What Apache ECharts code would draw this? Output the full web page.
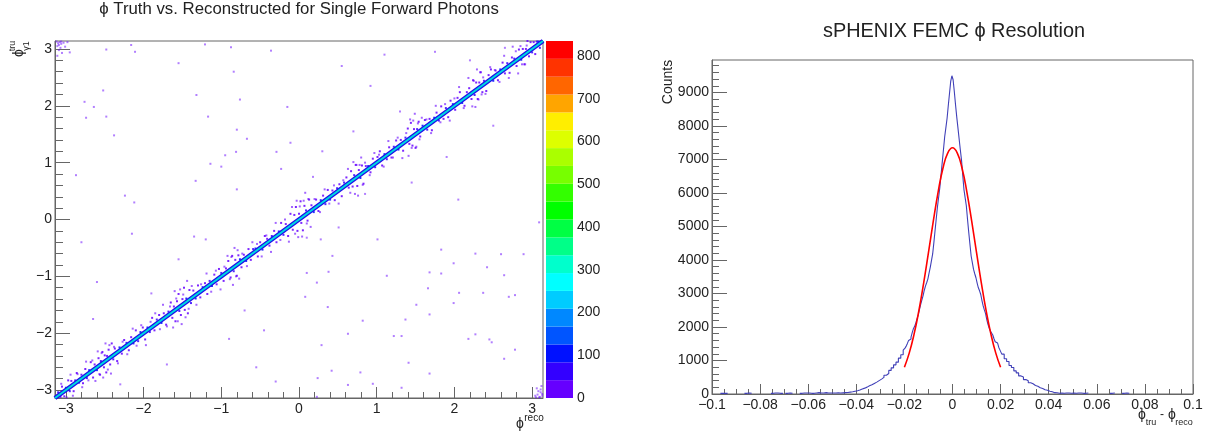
<!DOCTYPE html>
<html>
<head>
<meta charset="utf-8">
<style>
  html, body { margin: 0; background: #fff; }
  #chart { width: 1209px; height: 434px; }
</style>
<script src="https://cdn.jsdelivr.net/npm/echarts@6/dist/echarts.min.js"></script>
</head>
<body>
<div id="chart"></div>
<script>
const phiTicks = [-3, -2, -1, 0, 1, 2, 3]
const phiMinorTicks = [-3, -2.8, -2.6, -2.4, -2.2, -2, -1.8, -1.6, -1.4, -1.2, -1, -0.8, -0.6, -0.4, -0.2, 0, 0.2, 0.4, 0.6, 0.8, 1, 1.2, 1.4, 1.6, 1.8, 2, 2.2, 2.4, 2.6, 2.8, 3]
const paletteTicks = [0, 100, 200, 300, 400, 500, 600, 700, 800]
const diffTicks = [-0.1, -0.08, -0.06, -0.04, -0.02, 0, 0.02, 0.04, 0.06, 0.08, 0.1]
const diffMinorTicks = [-0.1, -0.095, -0.09, -0.085, -0.08, -0.075, -0.07, -0.065, -0.06, -0.055, -0.05, -0.045, -0.04, -0.035, -0.03, -0.025, -0.02, -0.015, -0.01, -0.005, 0, 0.005, 0.01, 0.015, 0.02, 0.025, 0.03, 0.035, 0.04, 0.045, 0.05, 0.055, 0.06, 0.065, 0.07, 0.075, 0.08, 0.085, 0.09, 0.095, 0.1]
const countTicks = [0, 1000, 2000, 3000, 4000, 5000, 6000, 7000, 8000, 9000]
const countMinorTicks = [0, 200, 400, 600, 800, 1000, 1200, 1400, 1600, 1800, 2000, 2200, 2400, 2600, 2800, 3000, 3200, 3400, 3600, 3800, 4000, 4200, 4400, 4600, 4800, 5000, 5200, 5400, 5600, 5800, 6000, 6200, 6400, 6600, 6800, 7000, 7200, 7400, 7600, 7800, 8000, 8200, 8400, 8600, 8800, 9000, 9200, 9400, 9600, 9800]

// bottom to top, one colour per contour
const palette = ['#6600ff', '#3300ff', '#0011ff', '#0055ff', '#0088ff', '#00ccff', '#00ffff', '#00ffcc', '#00ff88', '#00ff44',
  '#00ff00', '#33ff00', '#77ff00', '#aaff00', '#ddff00', '#ffee00', '#ffa500', '#ff6600', '#ff3300', '#ff0000']
const paletteStep = 41.75

// the dense core of the diagonal
const bandReco = [-3.14, 3.14]
const bandTruth = [-3.14, 3.14]

// cells hugging the diagonal, read as truth minus reco
const haloReco = [
  -3.1, -3.07, -3.05, -3.02, -3, -2.97, -2.95, -2.93, -2.9, -2.88, -2.86, -2.83,
  -2.8, -2.78, -2.75, -2.73, -2.7, -2.68, -2.65, -2.63, -2.6, -2.58, -2.56, -2.55,
  -2.53, -2.51, -2.5, -2.48, -2.47, -2.45, -2.43, -2.41, -2.39, -2.37, -2.34, -2.31,
  -2.28, -2.25, -2.22, -2.19, -2.16, -2.13, -2.1, -2.07, -2.04, -2.01, -1.98, -1.95,
  -1.92, -1.89, -1.86, -1.83, -1.8, -1.77, -1.74, -1.71, -1.68, -1.65, -1.63, -1.61,
  -1.59, -1.57, -1.55, -1.54, -1.52, -1.5, -1.48, -1.47, -1.45, -1.43, -1.41, -1.39,
  -1.36, -1.33, -1.3, -1.27, -1.24, -1.21, -1.18, -1.15, -1.12, -1.09, -1.06, -1.03,
  -1, -0.97, -0.94, -0.91, -0.88, -0.86, -0.84, -0.82, -0.8, -0.78, -0.76, -0.74,
  -0.71, -0.68, -0.65, -0.62, -0.59, -0.56, -0.53, -0.5, -0.47, -0.44, -0.41, -0.38,
  -0.35, -0.32, -0.29, -0.26, -0.23, -0.2, -0.17, -0.14, -0.11, -0.08, -0.06, -0.04,
  -0.02, 0, 0.02, 0.03, 0.05, 0.07, 0.09, 0.11, 0.13, 0.16, 0.19, 0.22,
  0.25, 0.28, 0.31, 0.34, 0.37, 0.4, 0.43, 0.46, 0.49, 0.52, 0.55, 0.58,
  0.61, 0.64, 0.67, 0.69, 0.71, 0.73, 0.75, 0.77, 0.79, 0.81, 0.83, 0.86,
  0.89, 0.92, 0.95, 0.98, 1.01, 1.04, 1.07, 1.1, 1.13, 1.16, 1.19, 1.22,
  1.25, 1.28, 1.31, 1.34, 1.37, 1.4, 1.42, 1.44, 1.46, 1.48, 1.5, 1.52,
  1.54, 1.56, 1.59, 1.62, 1.65, 1.68, 1.71, 1.74, 1.77, 1.8, 1.83, 1.86,
  1.89, 1.92, 1.95, 1.98, 2.01, 2.04, 2.07, 2.1, 2.13, 2.16, 2.19, 2.22,
  2.24, 2.26, 2.28, 2.3, 2.32, 2.34, 2.36, 2.38, 2.41, 2.44, 2.47, 2.5,
  2.53, 2.56, 2.59, 2.62, 2.65, 2.68, 2.71, 2.74, 2.77, 2.8, 2.83, 2.86,
  2.88, 2.9, 2.92, 2.94, 2.96, 2.98, 3, 3.02, 3.04, 3.06, 3.08, 3.1
]
const haloOffset = [
  0.06, -0.05, 0.11, -0.09, 0.04, 0.14, -0.07, 0.09, -0.12, 0.05, 0.16, -0.04,
  0.07, -0.1, 0.12, -0.06, 0.05, 0.17, -0.13, 0.08, -0.05, 0.14, -0.17, 0.06,
  0.2, -0.09, 0.11, -0.21, 0.07, 0.16, -0.12, 0.23, -0.07, 0.1, -0.15, 0.06,
  -0.08, 0.13, 0.05, -0.11, 0.09, -0.05, 0.15, -0.07, 0.06, 0.11, -0.13, 0.05,
  -0.06, 0.16, -0.09, 0.07, 0.12, -0.05, 0.09, -0.14, 0.06, 0.19, -0.1, 0.08,
  -0.2, 0.13, 0.24, -0.07, -0.16, 0.1, 0.28, -0.12, 0.06, -0.22, 0.17, -0.08,
  0.11, -0.06, 0.14, -0.1, 0.05, 0.09, -0.13, 0.07, -0.05, 0.12, -0.08, 0.16,
  0.06, -0.11, 0.08, 0.18, -0.14, 0.22, -0.07, 0.11, -0.19, 0.15, 0.06, -0.1,
  0.09, -0.05, 0.13, -0.09, 0.07, 0.05, -0.12, 0.1, -0.06, 0.15, 0.07, -0.08,
  0.06, 0.12, -0.11, 0.05, 0.17, -0.07, 0.09, -0.15, 0.21, -0.1, 0.14, 0.26,
  -0.18, 0.1, 0.3, -0.09, -0.24, 0.17, 0.07, -0.13, 0.22, 0.09, -0.06, 0.13,
  -0.1, 0.06, 0.11, -0.07, 0.15, -0.05, 0.08, -0.12, 0.06, 0.1, -0.14, 0.07,
  0.13, -0.08, 0.18, -0.11, 0.07, 0.23, -0.16, 0.1, -0.06, 0.14, -0.2, 0.08,
  0.05, -0.09, 0.12, -0.06, 0.09, 0.16, -0.12, 0.05, -0.07, 0.11, -0.1, 0.06,
  0.14, -0.05, 0.09, -0.13, 0.07, 0.2, -0.09, 0.26, -0.16, 0.11, -0.24, 0.07,
  0.18, -0.1, 0.06, 0.13, -0.07, 0.09, -0.14, 0.05, 0.11, -0.06, 0.16, -0.09,
  0.07, -0.12, 0.14, 0.05, -0.08, 0.1, 0.17, -0.05, -0.13, 0.08, 0.12, -0.1,
  0.21, -0.07, 0.13, -0.18, 0.09, 0.25, -0.12, 0.06, -0.15, 0.1, 0.17, -0.06,
  0.09, -0.11, 0.05, 0.14, -0.08, 0.07, -0.13, 0.11, 0.06, -0.1, 0.16, -0.05,
  0.12, -0.17, 0.08, 0.2, -0.09, 0.14, -0.06, 0.1, -0.13, 0.07, 0.05, -0.08
]
const haloCount = [
  60, 20, 10, 30, 90, 10, 50, 15, 10, 70, 10, 110,
  30, 10, 15, 80, 100, 10, 10, 20, 120, 10, 10, 60,
  10, 30, 15, 10, 40, 10, 10, 10, 70, 20, 10, 90,
  40, 10, 110, 15, 30, 100, 10, 60, 90, 15, 10, 120,
  80, 10, 20, 50, 10, 110, 25, 10, 70, 10, 15, 30,
  10, 15, 10, 60, 10, 20, 10, 10, 90, 10, 10, 50,
  15, 90, 10, 20, 120, 40, 10, 50, 100, 15, 30, 10,
  80, 10, 40, 10, 10, 10, 70, 20, 10, 10, 90, 15,
  20, 110, 10, 30, 50, 120, 10, 25, 90, 10, 40, 30,
  80, 15, 10, 110, 10, 60, 20, 10, 10, 15, 10, 10,
  10, 20, 10, 40, 10, 10, 70, 10, 10, 30, 100, 15,
  20, 90, 10, 60, 10, 110, 30, 10, 80, 15, 10, 50,
  10, 40, 10, 15, 60, 10, 10, 20, 90, 10, 10, 40,
  110, 20, 10, 80, 25, 10, 15, 120, 60, 10, 20, 70,
  10, 100, 30, 10, 50, 10, 40, 10, 10, 15, 10, 70,
  10, 25, 90, 15, 60, 30, 10, 110, 10, 80, 10, 20,
  50, 10, 10, 100, 30, 15, 10, 110, 10, 40, 10, 20,
  10, 70, 10, 10, 30, 10, 15, 60, 10, 20, 10, 90,
  25, 10, 110, 10, 40, 70, 10, 15, 60, 10, 10, 100,
  10, 10, 40, 10, 20, 10, 80, 15, 10, 50, 110, 60
]

// sparser cells further out from the diagonal, same reading
const fringeReco = [
  -3.06, -2.99, -2.94, -2.91, -2.85, -2.79, -2.74, -2.71, -2.66, -2.62, -2.59, -2.57, -2.54, -2.52, -2.49, -2.46, -2.44, -2.42,
  -2.38, -2.33, -2.27, -2.21, -2.14, -2.09, -2.03, -1.97, -1.91, -1.85, -1.79, -1.75, -1.7, -1.66, -1.62, -1.6, -1.58, -1.56,
  -1.53, -1.51, -1.49, -1.46, -1.44, -1.42, -1.38, -1.32, -1.26, -1.19, -1.13, -1.07, -1.01, -0.96, -0.92, -0.89, -0.87, -0.85,
  -0.83, -0.81, -0.79, -0.77, -0.73, -0.67, -0.6, -0.54, -0.48, -0.42, -0.36, -0.3, -0.24, -0.18, -0.13, -0.09, -0.05, -0.03,
  -0.01, 0.01, 0.04, 0.06, 0.08, 0.1, 0.12, 0.15, 0.2, 0.27, 0.33, 0.39, 0.45, 0.51, 0.57, 0.63, 0.66, 0.7, 0.72, 0.74,
  0.76, 0.78, 0.8, 0.82, 0.85, 0.91, 0.97, 1.03, 1.09, 1.15, 1.21, 1.27, 1.33, 1.38, 1.41, 1.43, 1.45, 1.47, 1.49, 1.51,
  1.53, 1.55, 1.58, 1.64, 1.7, 1.76, 1.82, 1.88, 1.94, 2, 2.06, 2.12, 2.18, 2.23, 2.25, 2.27, 2.29, 2.31, 2.33, 2.35,
  2.37, 2.4, 2.46, 2.52, 2.58, 2.64, 2.7, 2.75, 2.79, 2.82, 2.85, 2.87, 2.89, 2.91, 2.93, 2.95, 2.97, 2.99
]
const fringeOffset = [
  0.17, -0.14, 0.21, -0.19, 0.13, -0.16, 0.24, -0.12, 0.18, -0.22, 0.27, -0.15, 0.19, -0.26, 0.31, -0.18, 0.23, -0.29,
  0.14, -0.2, 0.12, -0.16, 0.22, -0.13, 0.17, -0.24, 0.11, 0.2, -0.14, 0.25, -0.18, 0.13, -0.28, 0.34, 0.19, -0.23,
  0.3, -0.33, 0.17, -0.26, 0.36, -0.15, 0.21, -0.18, 0.12, 0.24, -0.14, 0.17, -0.22, 0.13, 0.28, -0.16, 0.21, -0.3,
  0.33, -0.19, 0.25, -0.27, 0.13, -0.15, 0.2, 0.11, -0.17, 0.14, -0.21, 0.24, -0.12, 0.18, -0.26, 0.31, -0.2, 0.36,
  -0.3, 0.22, -0.34, 0.27, 0.39, -0.17, 0.24, -0.28, 0.16, -0.14, 0.2, -0.11, 0.15, -0.23, 0.12, 0.26, -0.19, 0.31, -0.27, 0.22,
  -0.34, 0.18, 0.29, -0.21, 0.15, -0.13, 0.2, 0.11, -0.16, 0.23, -0.12, 0.17, -0.25, 0.14, -0.29, 0.33, -0.19, 0.27,
  0.37, -0.23, 0.16, -0.14, 0.21, 0.12, -0.18, 0.24, -0.11, 0.15, -0.2, 0.13, 0.27, -0.16, 0.31, -0.24, 0.19, -0.29, 0.35, -0.2,
  0.26, -0.15, 0.13, -0.19, 0.22, 0.11, -0.16, 0.24, -0.21, 0.29, 0.17, -0.25, 0.2, -0.14, 0.26, -0.18, 0.13, 0.21
]

// isolated cells far from the diagonal, and the two wrap-around corners
const strayReco = [
  -2.87, -2.48, -2.16, -2.11, -1.55, -1.21, -0.875, -0.36, -0.84, -2.52, -1.32, -0.76, -2.76, -2.64, -0.15, -2.74, -2.48,
  -1.17, -0.8, -2.38, -0.67, -0.11, -0.81, -0.29, -0.95, -1.14, -1, -0.23, -1.33, -0.8, -2.24, -2.12, -2.95,
  0.51, 0.1, 1.01, 0.28, 1.83, 2.27, 2.6, 2.89, 0.43, 1.99, 2.42, 0.1, 0.38, 1.13, 1.68, 1.83, 2.64, 0.23,
  1.66, 2.06, 2.37, 2.7, 2.78, 0.08, 1.99, 1.51, 0.37, 1.68, 1.37, 0.82, 0.63, 2.27, 1.22, 1.32, 2.18, 2.45,
  2.48, 0.29, 2.78, 2.64, 1.41, 0.42, 0.79, 1.68, 0.24, 0.63, 0.95, 1.32, 0.23, 3.09,
  0.55, 0.92, 1.3, 1.75, 2.2, 2.65, 0.3, 0.7, 1.1, 1.9, 2.5, 0.18, 0.85, 1.45, 2.05,
  -2.8, -2.6, -2.15, -1.9, -1.55, -1.2, -0.9, -0.55, -0.3, -2.65, -1.7, -0.7, -2.3, -1.35, -0.45,
  -3.12, -3.11, -3.1, -3.09, -3.08, -3.07, -3.06, -3.05, -3.03, -3.01, -2.98, -3.11, -3.09, -3.06,
  3.04, 3.06, 3.07, 3.08, 3.1, 3.11, 3.12, 3.13, 3.05, 3.09, 3.11, 3.13
]
const strayTruth = [
  0.78, 2.99, 3.07, 2.95, 2.75, 3.08, 3.03, 2.97, 2.6, 2.27, 2.19, 2.11, 2.07, 1.98, 1.98, 1.79, 1.81,
  1.81, 1.58, 1.48, 1.42, 1.35, 1.19, 1.19, 1.13, 0.98, 0.93, 0.89, 0.68, 0.53, 0.42, 0.3, 2.94,
  -0.14, -0.32, -0.35, -0.35, -0.53, -0.6, -0.61, -0.61, -0.64, -0.77, -0.84, -0.94, -0.92, -0.99, -0.93, -0.95, -0.98, -1.11,
  -1.21, -1.29, -1.29, -1.36, -1.33, -1.36, -1.47, -1.5, -1.54, -1.67, -1.76, -1.78, -2.01, -2.02, -2.05, -2.05, -2.1, -2.11,
  -2.16, -2.21, -2.29, -2.45, -2.52, -2.66, -2.69, -2.71, -2.79, -2.91, -2.89, -2.96, -3.12, -0.05,
  2.7, 2.35, 1.9, 2.95, 2.8, 3.02, 1.2, 1.55, 2.9, 1.1, 1.65, 0.75, 0.45, 0.65, 0.35,
  -0.4, -1.1, -0.25, -1.3, -0.7, -0.35, -2.1, -2.6, -2.85, -1.75, -2.55, -1.6, -2.9, -0.3, -1.95,
  3.13, 3.05, 3.1, 2.98, 3.12, 3.02, 3.09, 2.93, 3.11, 3.04, 3.12, 2.88, 3.07, 3.13,
  -3.1, -2.97, -3.08, -3.02, -3.12, -3.04, -2.93, -3.1, -3.13, -3.13, -2.99, -3.07
]

// histogram, empty bins are null. tails in 0.001 bins, core in 0.0005 bins
const tailLeftCounts = [
  null, null, null, null, 20, 20, 20, null, null, null,
  null, null, null, null, 20, 30, 20, null, null, null,
  null, null, null, null, null, 20, 30, 30, 20, 20,
  null, 20, 30, 20, null, null, null, 20, 30, 30,
  30, 20, 20, 30, 40, 30, 30, 40, 30, 30,
  30, 30, 35, 30, 35, 40, 45, 55, 65, 80,
  95, 120, 150, 175, 205, 245, 275, 315, 355, 400,
  445, 495, 560, 610, 705, 780, 870, 950, 1070, 1170
]
const coreCounts = [
  1310, 1370, 1430, 1510, 1600, 1640, 1700, 1830, 1950, 2020,
  2120, 2240, 2360, 2520, 2670, 2800, 2930, 3090, 3220, 3320,
  3430, 3610, 3780, 3980, 4180, 4520, 4880, 5240, 5590, 5880,
  6170, 6560, 6930, 7300, 7680, 7950, 8230, 8610, 8970, 9330,
  9500,
  9380, 9030, 8640, 8280, 7950, 7620, 7290, 6980, 6540, 6110,
  5860, 5620, 5210, 4830, 4470, 4120, 3920, 3720, 3590, 3470,
  3310, 3170, 3080, 2970, 2790, 2630, 2510, 2400, 2220, 2080,
  1970, 1880, 1820, 1760, 1650, 1560, 1520, 1470, 1390, 1310
]
const tailRightCounts = [
  1190, 1050, 970, 850, 790, 690, 630, 540, 510, 430,
  395, 335, 305, 255, 230, 185, 165, 125, 110, 80,
  65, 40, 38, 20, 30, 20, 30, 30, 20, 30,
  20, 30, 30, 20, 20, 30, null, null, null, null,
  null, null, null, null, null, 20, 30, null, null, null,
  20, 30, 20, null, null, null, null, null, null, null,
  null, null, null, null, null, null, null, null, null, null,
  null, null, null, null, null, null, null, null, null, null
]

// gaussian fit drawn in red
const fitX = [-0.02, -0.018, -0.016, -0.014, -0.012, -0.01, -0.008, -0.006, -0.004, -0.002, 0, 0.002, 0.004, 0.006, 0.008, 0.01, 0.012, 0.014, 0.016, 0.018, 0.02]
const fitY = [800, 1220, 1780, 2480, 3310, 4220, 5150, 6020, 6730, 7190, 7350, 7190, 6730, 6020, 5150, 4220, 3310, 2480, 1780, 1220, 800]

const TEXT_COLOR = '#222'
const FRAME_COLOR = '#666'
const FONT = '"Liberation Sans", Arial, sans-serif'

const zip = (...cols) => cols[0].map((_, i) => cols.map(c => c[i]))
const signed = (v) => String(v).replace('-', '\u2212')
const binned = (start, width, counts) => counts.map((c, i) => [start + i * width, c])

function majorAxis(gridIndex, type, min, max, ticks, length) {
  return {
    type: 'value', gridIndex, min, max,
    position: type === 'x' ? 'bottom' : 'left',
    splitLine: { show: false },
    axisLine: { onZero: false, lineStyle: { color: FRAME_COLOR } },
    axisTick: { inside: true, length, customValues: ticks, lineStyle: { color: FRAME_COLOR } },
    axisLabel: {
      customValues: ticks, formatter: signed, color: TEXT_COLOR, fontSize: 14, fontFamily: FONT,
      margin: type === 'x' ? 4 : 3, hideOverlap: false
    }
  }
}

function minorAxis(gridIndex, type, min, max, ticks, length) {
  return {
    type: 'value', gridIndex, min, max,
    position: type === 'x' ? 'bottom' : 'left',
    splitLine: { show: false },
    axisLine: { show: false, onZero: false },
    axisTick: { inside: true, length, customValues: ticks, lineStyle: { color: FRAME_COLOR } },
    axisLabel: { show: false }
  }
}

function label(text, x, y, size, rotation) {
  return {
    type: 'text', x, y, rotation: rotation || 0, silent: true,
    style: { text, fontSize: size, fontFamily: FONT, fill: TEXT_COLOR, align: 'center', verticalAlign: 'middle' }
  }
}

const paletteSeries = palette.map((color) => ({
  type: 'bar', xAxisIndex: 2, yAxisIndex: 2, stack: 'palette', barWidth: '100%', silent: true,
  itemStyle: { color }, data: [paletteStep]
}))

const bandLine = (width, color) => ({
  type: 'line', xAxisIndex: 0, yAxisIndex: 0, showSymbol: false, silent: true,
  lineStyle: { width, color, cap: 'butt' }, data: zip(bandReco, bandTruth)
})

const hitSeries = (data, opacity) => ({
  type: 'scatter', xAxisIndex: 0, yAxisIndex: 0, symbol: 'rect', symbolSize: 2, silent: true,
  itemStyle: { opacity }, data
})

const option = {
  animation: false,
  backgroundColor: '#fff',
  grid: [
    { left: 55, top: 41, width: 488, height: 357, show: true, borderColor: FRAME_COLOR, borderWidth: 1, containLabel: false },
    { left: 546, top: 41, width: 27, height: 357 },
    { left: 712, top: 60, width: 481, height: 334, show: true, borderColor: FRAME_COLOR, borderWidth: 1, containLabel: false }
  ],
  xAxis: [
    majorAxis(0, 'x', -3.14, 3.14, phiTicks, 11),
    minorAxis(0, 'x', -3.14, 3.14, phiMinorTicks, 6),
    { type: 'category', gridIndex: 1, data: ['z'], show: false },
    majorAxis(2, 'x', -0.1, 0.1, diffTicks, 10),
    minorAxis(2, 'x', -0.1, 0.1, diffMinorTicks, 5)
  ],
  yAxis: [
    majorAxis(0, 'y', -3.14, 3.14, phiTicks, 15),
    minorAxis(0, 'y', -3.14, 3.14, phiMinorTicks, 8),
    {
      type: 'value', gridIndex: 1, min: 0, max: paletteStep * palette.length, position: 'right',
      splitLine: { show: false },
      axisLine: { lineStyle: { color: '#222' } },
      axisTick: { inside: true, length: 15, customValues: paletteTicks, lineStyle: { color: '#222' } },
      axisLabel: { customValues: paletteTicks, color: TEXT_COLOR, fontSize: 14, fontFamily: FONT, margin: 4 }
    },
    majorAxis(2, 'y', 0, 9970, countTicks, 15),
    minorAxis(2, 'y', 0, 9970, countMinorTicks, 7)
  ],
  visualMap: {
    show: false, type: 'piecewise', dimension: 2, seriesIndex: [0, 1, 2],
    pieces: palette.map((color, i) => ({ min: i * paletteStep, max: (i + 1) * paletteStep, color }))
  },
  series: [
    hitSeries(fringeReco.map((r, i) => [r, r + fringeOffset[i], 10]), 0.6),
    hitSeries(haloReco.map((r, i) => [r, r + haloOffset[i], haloCount[i]]), 0.85),
    hitSeries(strayReco.map((r, i) => [r, strayTruth[i], 10]), 0.5),
    bandLine(4.6, '#2a00ee'),
    bandLine(3, '#0a30e0'),
    bandLine(1.8, '#00d8e0'),
    ...paletteSeries,
    {
      type: 'line', xAxisIndex: 3, yAxisIndex: 3, step: 'middle', showSymbol: false, silent: true,
      connectNulls: false,
      lineStyle: { width: 1.1, color: '#4040b8' },
      data: [...binned(-0.1, 0.001, tailLeftCounts), ...binned(-0.02, 0.0005, coreCounts), ...binned(0.021, 0.001, tailRightCounts)]
    },
    {
      type: 'line', xAxisIndex: 3, yAxisIndex: 3, smooth: true, showSymbol: false, silent: true,
      lineStyle: { width: 1.6, color: '#ff0000' },
      data: zip(fitX, fitY)
    }
  ],
  graphic: [
    label('\u03d5 Truth vs. Reconstructed for Single Forward Photons', 299, 9, 16.8),
    label('sPHENIX FEMC \u03d5 Resolution', 954, 32, 19.9),
    label('\u03d5', 19, 53, 14, Math.PI / 2),
    label('tru', 13, 46, 9, Math.PI / 2),
    label('\u03b31', 27, 46, 9, Math.PI / 2),
    label('\u03d5', 520, 424, 14),
    label('reco', 534, 418, 10),
    label('Counts', 668, 82, 14, Math.PI / 2),
    label('\u03d5', 1142, 415, 14),
    label('tru', 1151, 423, 9),
    label('-', 1162, 415, 12),
    label('\u03d5', 1172, 415, 14),
    label('reco', 1184, 423, 9)
  ]
}

const chart = echarts.init(document.getElementById('chart'))
chart.setOption(option)
</script>
</body>
</html>
